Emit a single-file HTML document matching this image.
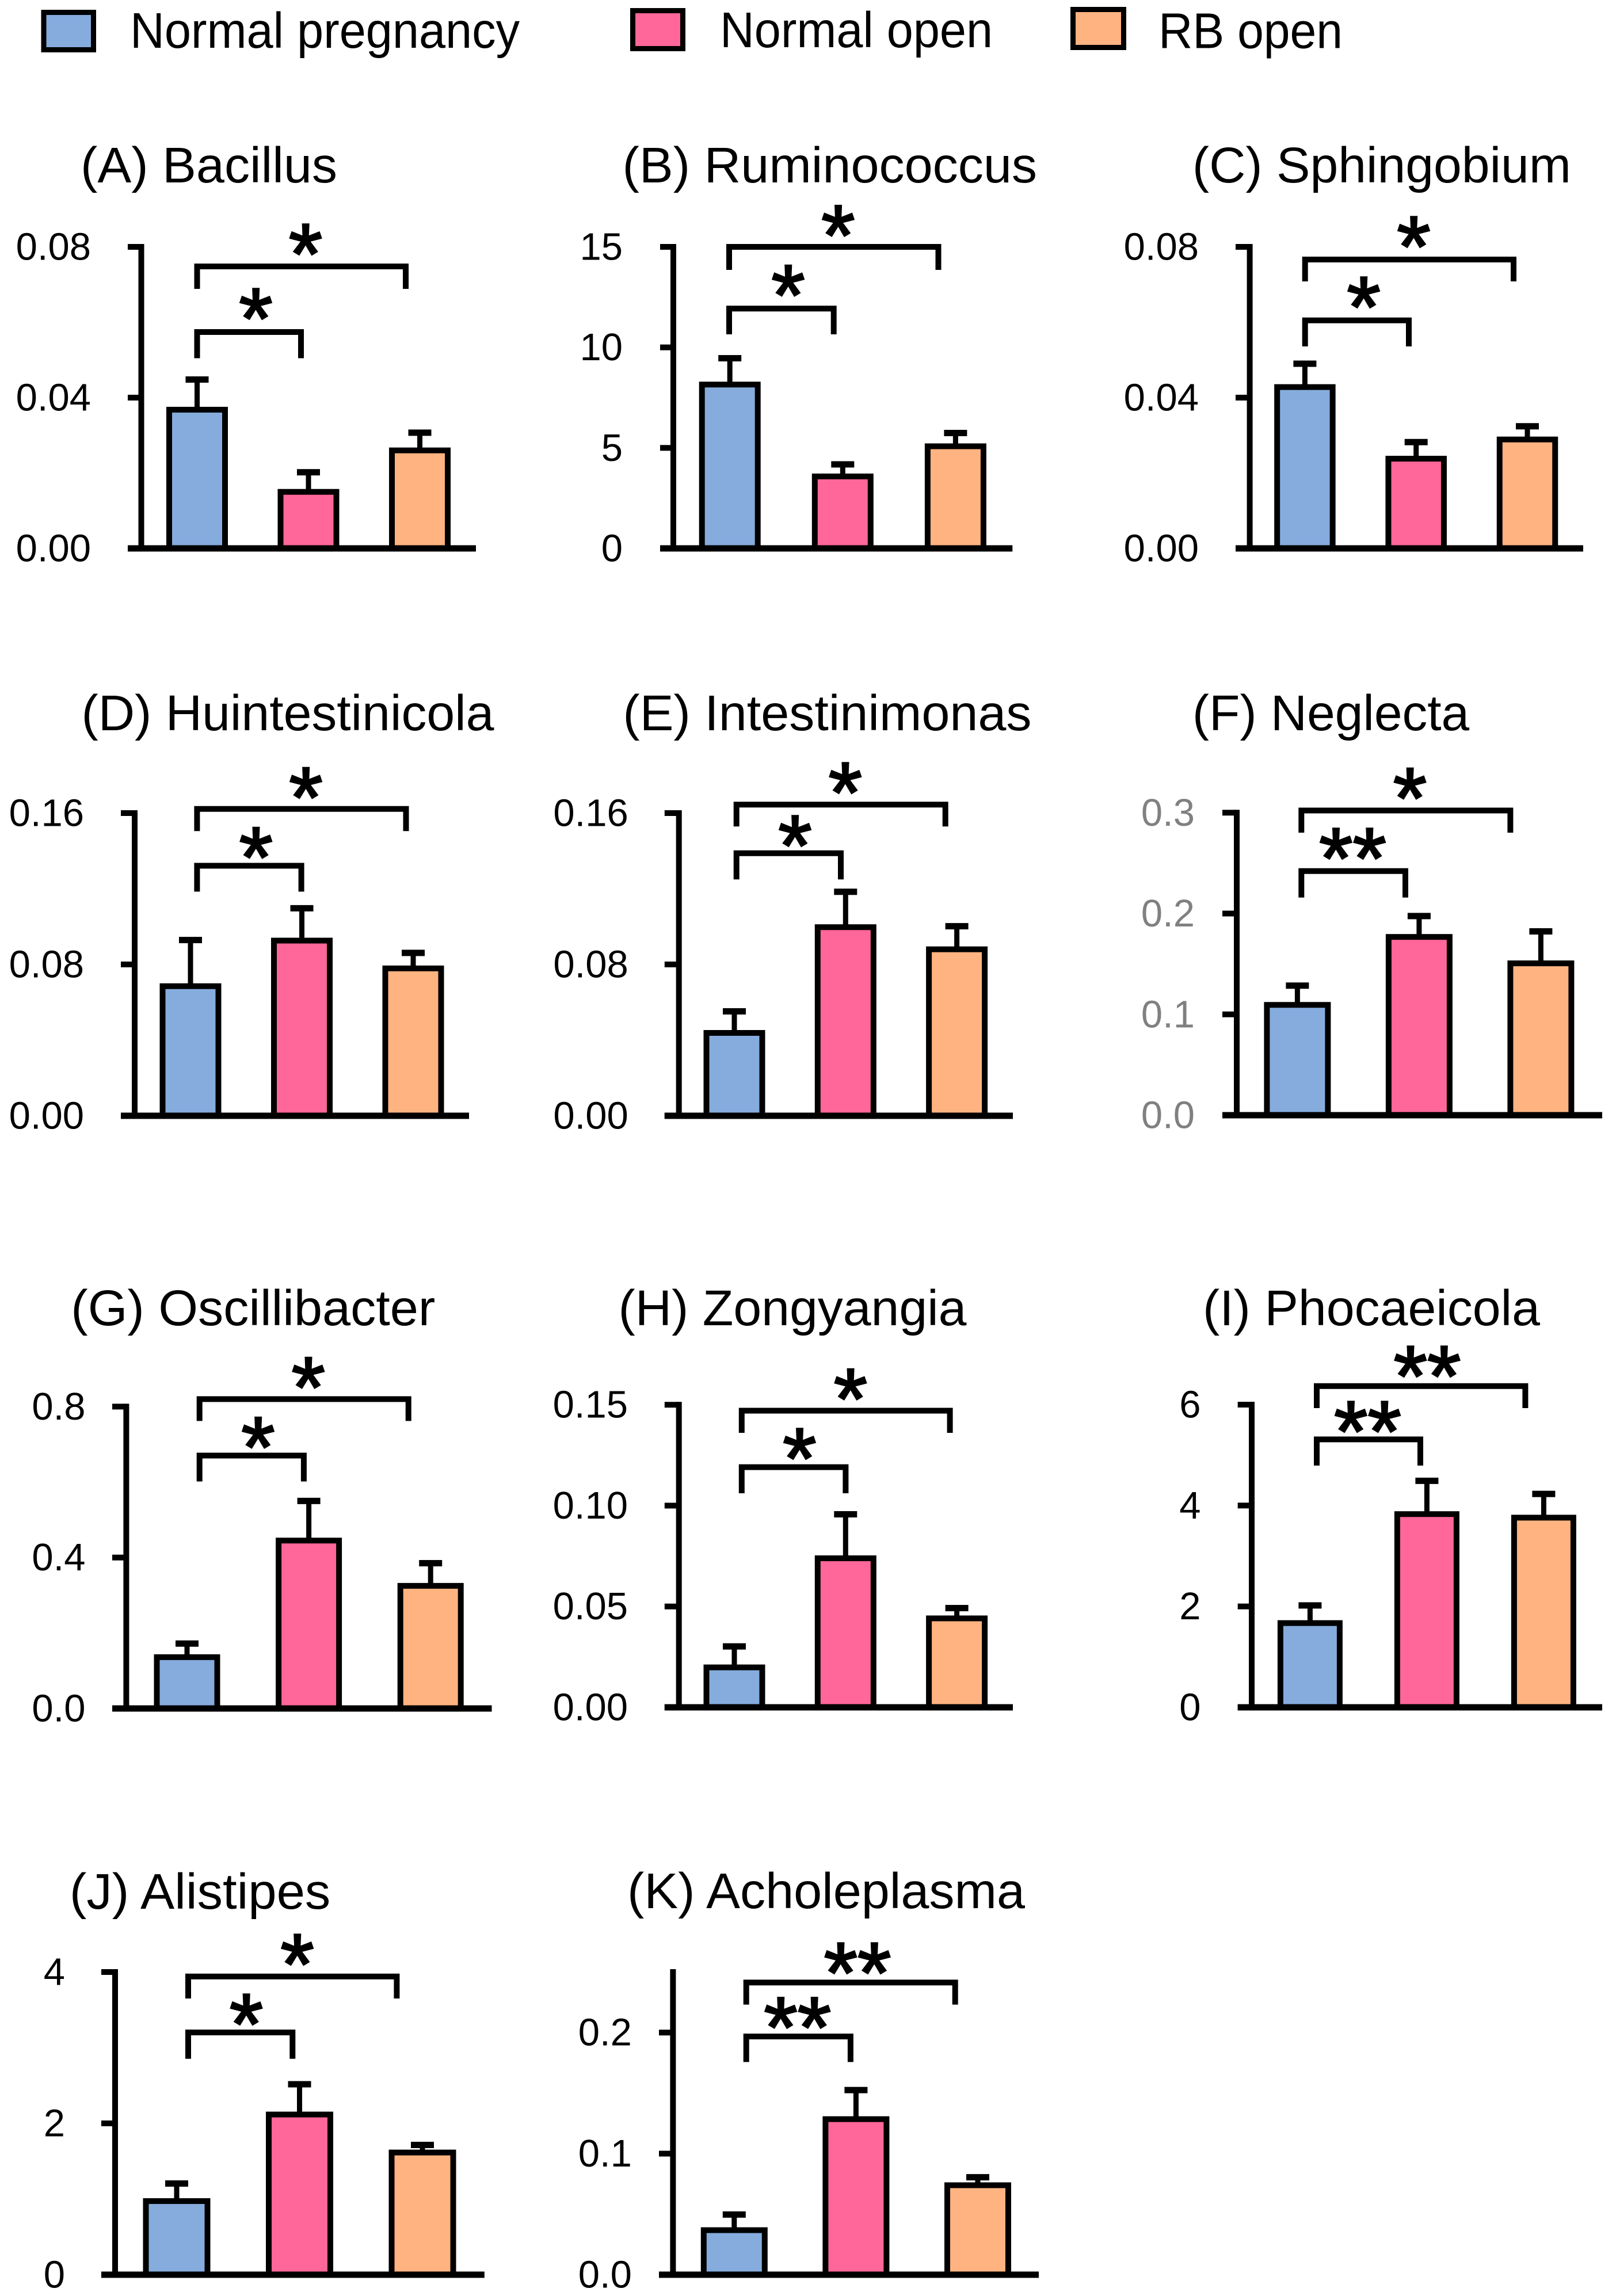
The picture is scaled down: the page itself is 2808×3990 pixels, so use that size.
<!DOCTYPE html>
<html lang="en">
<head>
<meta charset="utf-8">
<title>Genus abundance bar charts</title>
<style>
html,body{margin:0;padding:0;background:#fff;}
svg{display:block;}
text{font-family:"Liberation Sans",sans-serif;fill:#000;}
.title,.legend-text{font-size:87px;}
.tick-label{font-size:67px;text-anchor:end;}
.star{font-size:150px;text-anchor:middle;stroke:#000;stroke-width:3px;transform:translateY(-10px);}
.bracket{fill:none;stroke:#000;stroke-width:10;stroke-linejoin:miter;}
.swatch{stroke:#000;stroke-width:9;}
</style>
</head>
<body>
<svg id="figure" xmlns="http://www.w3.org/2000/svg" width="2808" height="3990" viewBox="0 0 2808 3990">
  <rect x="0" y="0" width="2808" height="3990" fill="#fff"/>
  <g>
    <rect class="swatch" x="76" y="21.5" width="86.5" height="65" fill="#85ACDD"/>
    <text class="legend-text" x="226" y="83" textLength="677" lengthAdjust="spacingAndGlyphs">Normal pregnancy</text>
    <rect class="swatch" x="1099.5" y="18.5" width="87" height="66" fill="#FF6699"/>
    <text class="legend-text" x="1251" y="82" textLength="474" lengthAdjust="spacingAndGlyphs">Normal open</text>
    <rect class="swatch" x="1864.5" y="16.5" width="88" height="66" fill="#FFB380"/>
    <text class="legend-text" x="2013" y="83.5" textLength="320" lengthAdjust="spacingAndGlyphs">RB open</text>
  </g>

  <g id="panel-a">
    <text class="title" x="140" y="317" textLength="446" lengthAdjust="spacingAndGlyphs">(A) Bacillus</text>
    <path class="bracket" d="M342.5 502V463H705V502"/>
    <path class="bracket" d="M342.5 622.5V577H523V622.5"/>
    <text class="star" x="531" y="503">*</text>
    <text class="star" x="444.5" y="615">*</text>
  </g>
  <g id="panel-b">
    <text class="title" x="1081.5" y="317" textLength="720.5" lengthAdjust="spacingAndGlyphs">(B) Ruminococcus</text>
    <path class="bracket" d="M1267 469V429H1630.5V469"/>
    <path class="bracket" d="M1267 581V536.3H1448.7V581"/>
    <text class="star" x="1456.4" y="470.6">*</text>
    <text class="star" x="1369.6" y="574.5">*</text>
  </g>
  <g id="panel-c">
    <text class="title" x="2071.9" y="317" textLength="658" lengthAdjust="spacingAndGlyphs">(C) Sphingobium</text>
    <path class="bracket" d="M2267.7 489V451H2630V489"/>
    <path class="bracket" d="M2267.7 602V556.8H2448V602"/>
    <text class="star" x="2456.5" y="490">*</text>
    <text class="star" x="2369.6" y="595">*</text>
  </g>
  <g id="panel-d">
    <text class="title" x="141.5" y="1269" textLength="717" lengthAdjust="spacingAndGlyphs">(D) Huintestinicola</text>
    <path class="bracket" d="M342.4 1444.3V1405.8H705.5V1444.3"/>
    <path class="bracket" d="M342.4 1549.5V1504.5H523.6V1549.5"/>
    <text class="star" x="531.5" y="1447.4">*</text>
    <text class="star" x="444.8" y="1551.4">*</text>
  </g>
  <g id="panel-e">
    <text class="title" x="1082.4" y="1269" textLength="710" lengthAdjust="spacingAndGlyphs">(E) Intestinimonas</text>
    <path class="bracket" d="M1279.7 1436.2V1398.2H1642.7V1436.2"/>
    <path class="bracket" d="M1279.7 1528.3V1482.8H1461V1528.3"/>
    <text class="star" x="1468.8" y="1439">*</text>
    <text class="star" x="1381.5" y="1531">*</text>
  </g>
  <g id="panel-f">
    <text class="title" x="2071.9" y="1269" textLength="481.3" lengthAdjust="spacingAndGlyphs">(F) Neglecta</text>
    <path class="bracket" d="M2261.3 1447V1408.5H2624.4V1447"/>
    <path class="bracket" d="M2261.3 1559.8V1513.7H2442V1559.8"/>
    <text class="star" x="2450" y="1448.5">*</text>
    <text class="star" x="2350.5" y="1553">**</text>
  </g>
  <g id="panel-g">
    <text class="title" x="123.3" y="2303" textLength="633" lengthAdjust="spacingAndGlyphs">(G) Oscillibacter</text>
    <path class="bracket" d="M346.7 2469.4V2431.4H709.7V2469.4"/>
    <path class="bracket" d="M346.7 2574.5V2529.5H527.9V2574.5"/>
    <text class="star" x="535.8" y="2472.5">*</text>
    <text class="star" x="448.5" y="2576.5">*</text>
  </g>
  <g id="panel-h">
    <text class="title" x="1074.5" y="2303" textLength="605" lengthAdjust="spacingAndGlyphs">(H) Zongyangia</text>
    <path class="bracket" d="M1288.8 2490V2451.5H1650.6V2490"/>
    <path class="bracket" d="M1288.8 2595V2549.6H1469.4V2595"/>
    <text class="star" x="1477.9" y="2492.5">*</text>
    <text class="star" x="1389.4" y="2596">*</text>
  </g>
  <g id="panel-i">
    <text class="title" x="2090" y="2303" textLength="586" lengthAdjust="spacingAndGlyphs">(I) Phocaeicola</text>
    <path class="bracket" d="M2288 2447V2408.7H2650.4V2447"/>
    <path class="bracket" d="M2288 2546.9V2501.4H2468V2546.9"/>
    <text class="star" x="2480" y="2453">**</text>
    <text class="star" x="2376.5" y="2549">**</text>
  </g>
  <g id="panel-j">
    <text class="title" x="120.9" y="3317" textLength="453.4" lengthAdjust="spacingAndGlyphs">(J) Alistipes</text>
    <path class="bracket" d="M327 3473V3434.8H689.4V3473"/>
    <path class="bracket" d="M327 3577.8V3532H508.3V3577.8"/>
    <text class="star" x="516.6" y="3475">*</text>
    <text class="star" x="428" y="3579">*</text>
  </g>
  <g id="panel-k">
    <text class="title" x="1090" y="3316" textLength="691" lengthAdjust="spacingAndGlyphs">(K) Acholeplasma</text>
    <path class="bracket" d="M1296.7 3483.6V3445.3H1659.7V3483.6"/>
    <path class="bracket" d="M1296.7 3583.4V3539H1477.9V3583.4"/>
    <text class="star" x="1490" y="3490">**</text>
    <text class="star" x="1385.8" y="3584.7">**</text>
  </g>
</svg>
<script>
const categories = ["normal-pregnancy", "normal-open", "rb-open"];

const bacillusValues = [0.0368, 0.0150, 0.0260];
const bacillusErrors = [0.0080, 0.0052, 0.0047];
const bacillusTicks = ["0.00", "0.04", "0.08"];

const ruminococcusValues = [8.15, 3.58, 5.08];
const ruminococcusErrors = [1.31, 0.60, 0.66];
const ruminococcusTicks = ["0", "5", "10", "15"];

const sphingobiumValues = [0.0428, 0.0238, 0.0289];
const sphingobiumErrors = [0.0062, 0.0044, 0.0035];
const sphingobiumTicks = ["0.00", "0.04", "0.08"];

const huintestinicolaValues = [0.0685, 0.0926, 0.0779];
const huintestinicolaErrors = [0.0244, 0.0171, 0.0082];
const huintestinicolaTicks = ["0.00", "0.08", "0.16"];

const intestinimonasValues = [0.0438, 0.0997, 0.0880];
const intestinimonasErrors = [0.0114, 0.0187, 0.0122];
const intestinimonasTicks = ["0.00", "0.08", "0.16"];

const neglectaValues = [0.1094, 0.1768, 0.1506];
const neglectaErrors = [0.0191, 0.0207, 0.0317];
const neglectaTicks = ["0.0", "0.1", "0.2", "0.3"];

const oscillibacterValues = [0.136, 0.445, 0.325];
const oscillibacterErrors = [0.036, 0.105, 0.060];
const oscillibacterTicks = ["0.0", "0.4", "0.8"];

const zongyangiaValues = [0.0198, 0.0739, 0.0441];
const zongyangiaErrors = [0.0104, 0.0218, 0.0051];
const zongyangiaTicks = ["0.00", "0.05", "0.10", "0.15"];

const phocaeicolaValues = [1.67, 3.83, 3.76];
const phocaeicolaErrors = [0.35, 0.66, 0.47];
const phocaeicolaTicks = ["0", "2", "4", "6"];

const alistipesValues = [0.973, 2.117, 1.615];
const alistipesErrors = [0.232, 0.400, 0.100];
const alistipesTicks = ["0", "2", "4"];

const acholeplasmaValues = [0.0368, 0.1285, 0.0739];
const acholeplasmaErrors = [0.0129, 0.0240, 0.0066];
const acholeplasmaTicks = ["0.0", "0.1", "0.2"];

const barColors = {"normal-pregnancy": "#85ACDD", "normal-open": "#FF6699", "rb-open": "#FFB380"};

const panels = [
  {id: "panel-a", values: bacillusValues, errors: bacillusErrors, ticks: bacillusTicks, yMax: 0.08,
   frame: {axisX: 245.5, tickLeft: 222, endX: 827, top: 429, base: 953, labelRight: 158, firstBar: 342.5, step: 193.5, barW: 97}},
  {id: "panel-b", values: ruminococcusValues, errors: ruminococcusErrors, ticks: ruminococcusTicks, yMax: 15,
   frame: {axisX: 1170, tickLeft: 1147, endX: 1759.3, top: 429, base: 953, labelRight: 1082, firstBar: 1268.2, step: 196.1, barW: 97}},
  {id: "panel-c", values: sphingobiumValues, errors: sphingobiumErrors, ticks: sphingobiumTicks, yMax: 0.08,
   frame: {axisX: 2171.6, tickLeft: 2147, endX: 2751, top: 429, base: 953, labelRight: 2083, firstBar: 2267.4, step: 193.3, barW: 96.5}},
  {id: "panel-d", values: huintestinicolaValues, errors: huintestinicolaErrors, ticks: huintestinicolaTicks, yMax: 0.16,
   frame: {axisX: 234, tickLeft: 210, endX: 815, top: 1413, base: 1939, labelRight: 146, firstBar: 331, step: 193.5, barW: 97}},
  {id: "panel-e", values: intestinimonasValues, errors: intestinimonasErrors, ticks: intestinimonasTicks, yMax: 0.16,
   frame: {axisX: 1179.7, tickLeft: 1154.8, endX: 1760, top: 1413, base: 1939, labelRight: 1091.8, firstBar: 1276, step: 193.3, barW: 97}},
  {id: "panel-f", values: neglectaValues, errors: neglectaErrors, ticks: neglectaTicks, yMax: 0.3, labelColor: "#808080",
   frame: {axisX: 2149, tickLeft: 2124, endX: 2784, top: 1412.3, base: 1938, labelRight: 2076, firstBar: 2254.4, step: 211.5, barW: 106}},
  {id: "panel-g", values: oscillibacterValues, errors: oscillibacterErrors, ticks: oscillibacterTicks, yMax: 0.8,
   frame: {axisX: 219.4, tickLeft: 195, endX: 854.5, top: 2444.4, base: 2969, labelRight: 148.5, firstBar: 325, step: 211.6, barW: 105}},
  {id: "panel-h", values: zongyangiaValues, errors: zongyangiaErrors, ticks: zongyangiaTicks, yMax: 0.15,
   frame: {axisX: 1179.7, tickLeft: 1154.8, endX: 1760, top: 2441.2, base: 2967, labelRight: 1091, firstBar: 1276, step: 193.3, barW: 97}},
  {id: "panel-i", values: phocaeicolaValues, errors: phocaeicolaErrors, ticks: phocaeicolaTicks, yMax: 6,
   frame: {axisX: 2175, tickLeft: 2150.7, endX: 2784, top: 2441, base: 2967, labelRight: 2086.5, firstBar: 2276.4, step: 203, barW: 103}},
  {id: "panel-j", values: alistipesValues, errors: alistipesErrors, ticks: alistipesTicks, yMax: 4,
   frame: {axisX: 200, tickLeft: 176, endX: 841.8, top: 3427, base: 3953, labelRight: 113, firstBar: 307, step: 213.5, barW: 107}},
  {id: "panel-k", values: acholeplasmaValues, errors: acholeplasmaErrors, ticks: acholeplasmaTicks, yMax: 0.25,
   frame: {axisX: 1169.4, tickLeft: 1145, endX: 1805, top: 3427, base: 3953, labelRight: 1097.9, firstBar: 1275.8, step: 211.6, barW: 106}}
];

const SVG_NS = "http://www.w3.org/2000/svg";

function make(tag, props) {
  const el = document.createElementNS(SVG_NS, tag);
  for (const key in props) el.setAttribute(key, props[key]);
  return el;
}

function blackBox(x, y, w, h) {
  return make("rect", {x: x, y: y, width: w, height: h, fill: "#000"});
}

panels.forEach(function (panel) {
  const group = document.getElementById(panel.id);
  const f = panel.frame;
  const yScale = function (v) { return f.base - (v / panel.yMax) * (f.base - f.top); };
  const xScale = function (i) { return f.firstBar + i * f.step; };

  panel.values.forEach(function (value, i) {
    const cx = xScale(i);
    const barTop = yScale(value);
    const capY = yScale(value + panel.errors[i]);

    const stem = blackBox(cx - 4.5, capY, 9, barTop - capY);
    
    
    group.appendChild(stem);

    const cap = blackBox(cx - 20, capY - 5.5, 40, 11);
    
    
    group.appendChild(cap);

    const bar = make("rect", {
      x: cx - f.barW / 2, y: barTop, width: f.barW, height: f.base - barTop,
      fill: barColors[categories[i]], stroke: "#000", "stroke-width": 10
    });
    
    
    group.appendChild(bar);
  });

  const yAxis = blackBox(f.axisX - 5, f.top - 5, 10, f.base - f.top + 5);
  
  
  group.appendChild(yAxis);

  const xAxis = blackBox(f.tickLeft, f.base - 5.5, f.endX - f.tickLeft, 11);
  
  
  group.appendChild(xAxis);

  panel.ticks.forEach(function (label) {
    const y = yScale(Number(label));
    const mark = blackBox(f.tickLeft, y - 5, f.axisX - f.tickLeft, 10);
    
    
    group.appendChild(mark);

    const text = make("text", {"class": "tick-label", x: f.labelRight, y: y + 22.5});
    
    
    if (panel.labelColor) text.style.fill = panel.labelColor;
    text.textContent = label;
    group.appendChild(text);
  });
});
</script>
</body>
</html>
